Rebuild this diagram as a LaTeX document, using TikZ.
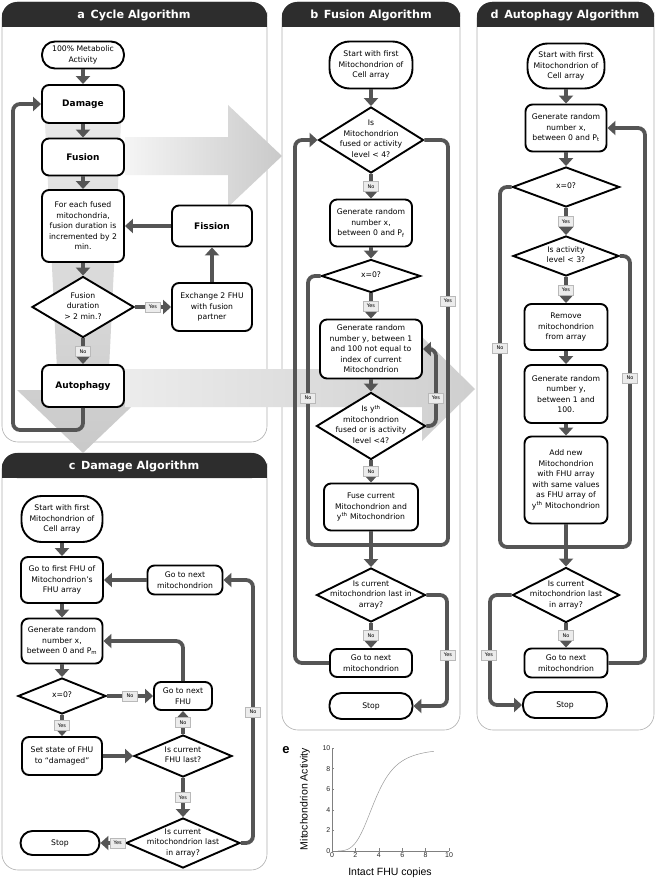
\documentclass[tikz,border=0pt]{standalone}
\usepackage{fontspec}
\setmainfont{DejaVu Sans}
\newfontfamily\plotfont{Liberation Sans}
\usetikzlibrary{arrows.meta,shapes.geometric,positioning,calc}
\definecolor{barcolor}{RGB}{45,45,45}
\definecolor{flowcolor}{RGB}{85,85,85}
\definecolor{framecolor}{RGB}{175,175,175}
\newcommand{\flowfont}{\fontsize{7.7}{10.5}\selectfont}
\newcommand{\stepfont}{\fontsize{9}{11}\selectfont\bfseries}
\newcommand{\titlefont}{\fontsize{11.2}{13}\selectfont\bfseries}
\newcommand{\ynfont}{\fontsize{5}{6}\selectfont}
\newcommand{\dtext}[1]{\makebox[0pt]{\smash{\raisebox{-1.5pt}{\begin{tabular}{@{}c@{}}#1\end{tabular}}}}}

\begin{document}
\begin{tikzpicture}[
    x=1pt, y=-1pt,
    every node/.style={font=\flowfont},
    wh/.style 2 args={minimum width=#1pt, minimum height=#2pt},
    box/.style={rectangle, draw, line width=1.9pt, rounded corners=7pt, fill=white, align=center, inner sep=1pt},
    term/.style={box, rounded corners=#1},
    term/.default=12pt,
    decision/.style={diamond, draw, line width=1.9pt, fill=white, inner sep=0pt},
    stepbox/.style={box, font=\stepfont},
    flow/.style={draw=flowcolor, line width=3.8pt, rounded corners=7pt, -{Triangle[length=8pt,width=14pt]}},
    flowline/.style={draw=flowcolor, line width=3.8pt, rounded corners=7pt},
    yn/.style={rectangle, draw=gray!55, fill=gray!15, line width=0.4pt, sharp corners, font=\ynfont, inner sep=1.2pt, minimum width=15pt, minimum height=10pt},
    panelframe/.style={draw=framecolor, line width=0.6pt, fill=white, rounded corners=16pt},
    bar/.style={fill=barcolor},
    paneltitle/.style={text=white, font=\titlefont},
    ticklabel/.style={font={\plotfont\fontsize{7}{8}\selectfont}, text=gray!30!black, inner sep=1.5pt}
]
\useasboundingbox (0,0) rectangle (656,880);

% Panels
\draw[panelframe] (2,2) rectangle (267,442);
\draw[panelframe] (282,2) rectangle (460,730);
\draw[panelframe] (477,2) rectangle (654,730);
\draw[panelframe] (2,453) rectangle (267,870);
\fill[bar, rounded corners=15pt] (2,2) rectangle (267,27);
\fill[bar] (2,14) rectangle (267,27);
\fill[bar, rounded corners=15pt] (282,2) rectangle (460,27);
\fill[bar] (282,14) rectangle (460,27);
\fill[bar, rounded corners=15pt] (477,2) rectangle (654,27);
\fill[bar] (477,14) rectangle (654,27);
\fill[bar, rounded corners=15pt] (2,453) rectangle (267,478);
\fill[bar] (2,466) rectangle (267,478);
\node[paneltitle] (titlea) at (134,15) {a\enspace Cycle Algorithm};
\node[paneltitle] (titleb) at (371,15) {b\enspace Fusion Algorithm};
\node[paneltitle] (titled) at (565,15) {d\enspace Autophagy Algorithm};
\node[paneltitle] (titlec) at (134,466) {c\enspace Damage Algorithm};

% Big arrows between panels
\shade[top color=gray!18, bottom color=gray!42] (45,123) -- (121,123) -- (108,390) -- (149,390) -- (83,453) -- (17,390) -- (58,390) -- cycle;
\shade[left color=gray!8, right color=gray!42] (125,137) -- (228,137) -- (228,105) -- (282,156) -- (228,207) -- (228,175) -- (125,175) -- cycle;
\shade[left color=gray!15, right color=gray!38] (125,369) -- (422,369) -- (422,337) -- (475,389) -- (422,441) -- (422,407) -- (125,407) -- cycle;

% Cycle algorithm
\node[term=13pt, wh={82}{27}] (astart) at (83,55) {100\% Metabolic\\Activity};
\node[stepbox, wh={82}{38}] (damage) at (83,104) {Damage};
\node[stepbox, wh={82}{37}] (fusion) at (83,157) {Fusion};
\node[box, wh={82}{72}] (increment) at (83,226) {For each fused\\mitochondria,\\fusion duration is\\incremented by 2\\min.};
\node[decision, wh={102}{61}] (duration) at (83,307) {\dtext{Fusion\\duration\\> 2 min.?}};
\node[stepbox, wh={82}{42}] (autophagy) at (83,386) {Autophagy};
\node[stepbox, wh={80}{41}] (fission) at (212,226) {Fission};
\node[box, wh={80}{48}] (exchange) at (212,307) {Exchange 2 FHU\\with fusion\\partner};

\draw[flow] (astart) -- (damage);
\draw[flow] (damage) -- (fusion);
\draw[flow] (fusion) -- (increment);
\draw[flow] (increment) -- (duration);
\draw[flow] (duration) -- node[yn] {Yes} (exchange);
\draw[flow] (exchange) -- (fission);
\draw[flow] (fission) -- (increment);
\draw[flow] (duration) -- node[yn] {No} (autophagy);
\draw[flow] (autophagy.south) |- (13,430) |- (damage.west);

% Fusion algorithm
\node[term=20pt, wh={83}{47}] (bstart) at (371,65) {Start with first\\Mitochondrion of\\Cell array};
\node[decision, wh={105}{66}] (bcheck) at (371,140) {\dtext{Is\\Mitochondrion\\fused or activity\\level < 4?}};
\node[box, wh={82}{47}] (bgenx) at (371,223) {Generate random\\number x,\\between 0 and P\textsubscript{f}};
\node[decision, wh={99}{33}] (bxzero) at (371,276) {\dtext{x=0?}};
\node[box, wh={102}{59}] (bgeny) at (371,349) {Generate random\\number y, between 1\\and 100 not equal to\\index of current\\Mitochondrion};
\node[decision, wh={109}{67}] (bycheck) at (371,426) {\dtext{Is y\textsuperscript{th}\\mitochondrion\\fused or is activity\\level <4?}};
\node[box, wh={94}{47}] (bfuse) at (371,507) {Fuse current\\Mitochondrion and\\y\textsuperscript{th} Mitochondrion};
\node[decision, wh={109}{54}] (blast) at (371,595) {\dtext{Is current\\mitochondrion last in\\array?}};
\node[box, wh={82}{28}] (bnext) at (371,663) {Go to next\\mitochondrion};
\node[yn, minimum width=5pt, minimum height=5pt, inner sep=0pt] (bstub) at (380,695) {};
\node[term, wh={83}{26}] (bstop) at (371,706) {Stop};

\draw[flow] (bstart) -- (bcheck);
\draw[flow] (bcheck) -- node[yn] {No} (bgenx);
\draw[flow] (bgenx) -- (bxzero);
\draw[flow] (bxzero) -- node[yn] {Yes} (bgeny);
\draw[flow] (bgeny) -- (bycheck);
\draw[flow] (bycheck) -- node[yn] {No} (bfuse);
\draw[flow] (bycheck.east) -- (436,426) |- (bgeny.east);
\draw[flowline] (bxzero.west) -| (308,545) -- (371,545);
\draw[flowline] (bcheck.east) -| (448,545) -- (371,545);
\draw[flow] (bfuse) -- (blast);
\draw[flow] (blast) -- node[yn] {No} (bnext);
\draw[flow] (bnext.west) -| (295,140) -- (bcheck.west);
\draw[flow] (blast.east) -| (447,706) -- (bstop.east);
\node[yn] (bno1) at (308,398) {No};
\node[yn] (byes1) at (448,301) {Yes};
\node[yn] (byes2) at (436,398) {Yes};
\node[yn] (byes3) at (448,655) {Yes};

% Autophagy algorithm
\node[term=20pt, wh={77}{45}] (dstart) at (566,66) {Start with first\\Mitochondrion of\\Cell array};
\node[box, wh={81}{47}] (dgenx) at (566,128) {Generate random\\number x,\\between 0 and P\textsubscript{t}};
\node[decision, wh={107}{40}] (dxzero) at (566,187) {\dtext{x=0?}};
\node[decision, wh={106}{40}] (dlevel) at (566,256) {\dtext{Is activity\\level < 3?}};
\node[box, wh={83}{46}] (dremove) at (566,327) {Remove\\mitochondrion\\from array};
\node[box, wh={83}{58}] (dgeny) at (566,394) {Generate random\\number y,\\between 1 and\\100.};
\node[box, wh={83}{87}] (dadd) at (566,480) {Add new\\Mitochondrion\\with FHU array\\with same values\\as FHU array of\\y\textsuperscript{th} Mitochondrion};
\node[decision, wh={107}{55}] (dlast) at (566,595) {\dtext{Is current\\mitochondrion last\\in array?}};
\node[box, wh={83}{29}] (dnext) at (566,663) {Go to next\\mitochondrion};
\node[term, wh={84}{26}] (dstop) at (565,705) {Stop};

\draw[flow] (dstart) -- (dgenx);
\draw[flow] (dgenx) -- (dxzero);
\draw[flow] (dxzero) -- node[yn] {Yes} (dlevel);
\draw[flow] (dlevel) -- node[yn] {Yes} (dremove);
\draw[flow] (dremove) -- (dgeny);
\draw[flow] (dgeny) -- (dadd);
\draw[flow] (dadd) -- (dlast);
\draw[flowline] (dxzero.west) -| (500,547) -- (566,547);
\draw[flowline] (dlevel.east) -| (630,547) -- (566,547);
\draw[flow] (dlast) -- node[yn] {No} (dnext);
\draw[flow] (dnext.east) -| (645,128) -- (dgenx.east);
\draw[flow] (dlast.west) -| (490,705) -- (dstop.west);
\node[yn] (dno1) at (500,348) {No};
\node[yn] (dno2) at (630,378) {No};
\node[yn] (dyes1) at (489,655) {Yes};

% Damage algorithm
\node[term=20pt, wh={81}{46}] (cstart) at (62,519) {Start with first\\Mitochondrion of\\Cell array};
\node[box, wh={82}{46}] (cfirst) at (62,580) {Go to first FHU of\\Mitochondrion’s\\FHU array};
\node[box, wh={75}{29}] (cnextmito) at (185,580) {Go to next\\mitochondrion};
\node[box, wh={81}{45}] (cgenx) at (62,641) {Generate random\\number x,\\between 0 and P\textsubscript{m}};
\node[decision, wh={88}{36}] (cxzero) at (62,696) {\dtext{x=0?}};
\node[box, wh={58}{28}] (cnextfhu) at (183,696) {Go to next\\FHU};
\node[box, wh={80}{38}] (cset) at (62,756) {Set state of FHU\\to “damaged”};
\node[decision, wh={98}{42}] (cfhulast) at (183,756) {\dtext{Is current\\FHU last?}};
\node[decision, wh={114}{50}] (cmitolast) at (183,843) {\dtext{Is current\\mitochondrion last\\in array?}};
\node[term, wh={79}{24}] (cstop) at (60,843) {Stop};

\draw[flow] (cstart) -- (cfirst);
\draw[flow] (cfirst) -- (cgenx);
\draw[flow] (cgenx) -- (cxzero);
\draw[flow] (cxzero) -- node[yn] {Yes} (cset);
\draw[flow] (cxzero) -- node[yn] {No} (cnextfhu);
\draw[flow] (cnextfhu.north) |- (cgenx.east);
\draw[flow] (cset) -- (cfhulast);
\draw[flow] (cfhulast) -- node[yn] {No} (cnextfhu);
\draw[flow] (cfhulast) -- node[yn] {Yes} (cmitolast);
\draw[flow] (cmitolast) -- node[yn, pos=0.3] {Yes} (cstop);
\draw[flow] (cmitolast.east) -| (253,580) -- (cnextmito.east);
\draw[flow] (cnextmito) -- (cfirst);
\node[yn] (cno1) at (253,712) {No};

% Activity curve
\node[font={\plotfont\bfseries\fontsize{13}{14}\selectfont}] (elabel) at (286,750) {e};
\begin{scope}[shift={(332,851)}, x=11.7pt, y=10.3pt]
    \draw[gray, line width=0.5pt] (0,10) -- (0,0) -- (10,0);
    \foreach \t in {0,2,...,10} {
        \draw[gray, line width=0.5pt] (\t,0) -- ++(0,0.25);
        \draw[gray, line width=0.5pt] (0,\t) -- ++(0.2,0);
        \node[ticklabel, below] (xt\t) at (\t,0) {\t};
        \node[ticklabel, left] (yt\t) at (0,\t) {\t};
    }
    \draw[gray!80, line width=0.5pt] plot[domain=0.5:8.7, samples=60, smooth] (\x, {10/(1+(3.7/\x)^4)});
\end{scope}
\node[font={\plotfont\fontsize{10.5}{12}\selectfont}] (xlabel) at (390,873) {Intact FHU copies};
\node[font={\plotfont\fontsize{10.5}{12}\selectfont}, rotate=90] (ylabel) at (305,799) {Mitochondrion Activity};
\end{tikzpicture}
\end{document}
